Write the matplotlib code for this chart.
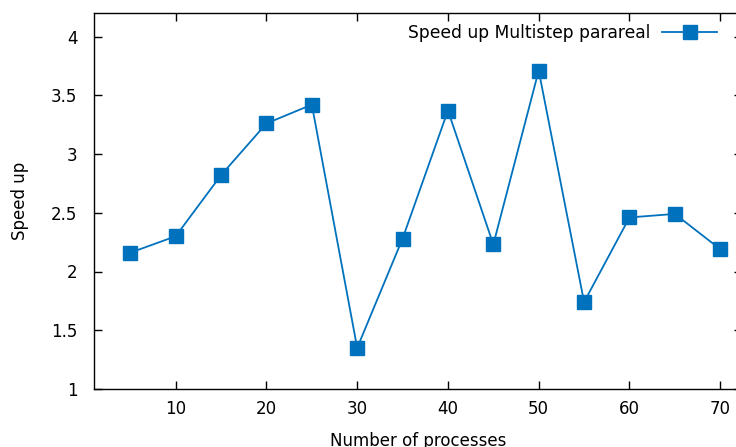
import numpy as np
import matplotlib.pyplot as plt

# Speed up of multistep parareal vs number of processes
procs = [5, 10, 15, 20, 25, 30, 35, 40, 45, 50, 55, 60, 65, 70]
speedup = [2.16, 2.30, 2.82, 3.26, 3.42, 1.35, 2.28, 3.37, 2.23, 3.71, 1.74, 2.46, 2.49, 2.19]
yticks = [1, 1.5, 2, 2.5, 3, 3.5, 4]
xticks = [10, 20, 30, 40, 50, 60, 70]

plt.rcParams['font.family'] = 'DejaVu Sans'
plt.rcParams['font.size'] = 12

fig = plt.figure(figsize=(7.36, 4.47), dpi=100)
ax = fig.add_axes([94 / 736, 1 - 389 / 447, 648 / 736, 376 / 447])

ax.plot(procs, speedup, color='#0072bd', linewidth=1.3, marker='s', markersize=10,
        label='Speed up Multistep parareal')

ax.set_xlim(1, 72.4)
ax.set_ylim(1, 4.2)
ax.set_xticks(xticks)
ax.set_yticks(yticks)
ax.set_yticklabels([('%g' % v) for v in yticks])
ax.tick_params(direction='in', length=6, width=1, top=True, right=True)
ax.tick_params(axis='x', pad=8)
ax.tick_params(axis='y', pad=12)
for s in ax.spines.values():
    s.set_linewidth(1)

ax.set_xlabel('Number of processes', labelpad=10)
ax.set_ylabel('Speed up', labelpad=16)

ax.legend(loc='upper right', bbox_to_anchor=(717 / 736, 1 - 24 / 447),
          bbox_transform=fig.transFigure, frameon=False, markerfirst=False,
          handlelength=3.2, borderaxespad=0, borderpad=0, handletextpad=0.7,
          fontsize=12.3)

plt.savefig('out.png', dpi=100)
